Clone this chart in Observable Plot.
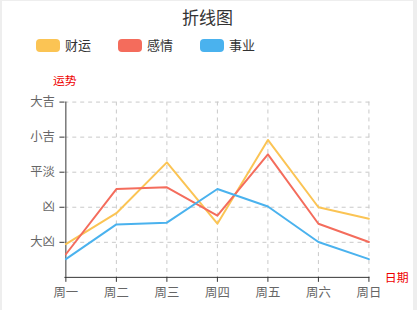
<!DOCTYPE html>
<html>
<head>
<meta charset="utf-8">
<script src="https://cdn.jsdelivr.net/npm/d3@7"></script>
<script src="https://cdn.jsdelivr.net/npm/@observablehq/plot@0.6"></script>
<style>
  html, body { margin: 0; padding: 0; background: #fff; }
  body { font-family: "Noto Sans CJK SC", "Noto Sans", sans-serif; }
  #wrap { width: 417px; height: 310px; position: relative; box-sizing: border-box; border-left: 2px solid #eee; border-right: 4px solid #eee; border-top: 1px solid #eee; overflow: hidden; }
  #title { position: absolute; left: 0; right: 0; top: 4px; text-align: center; font-size: 17px; color: #333; line-height: 24px; }
  #legend { position: absolute; left: 34px; top: 35px; display: flex; font-size: 13px; color: #333; line-height: 18px; }
  .item { display: flex; align-items: center; margin-right: 27px; }
  .sw { width: 24px; height: 13px; border-radius: 4px; margin-right: 5px; }
  #chart { position: absolute; left: -2px; top: 58px; }
</style>
</head>
<body>
<div id="wrap">
  <div id="title"></div>
  <div id="legend"></div>
  <div id="chart"></div>
</div>
<script>
const titleText = "折线图";
const days = ["周一", "周二", "周三", "周四", "周五", "周六", "周日"];
const seriesNames = ["财运", "感情", "事业"];
const seriesColors = ["#fbc454", "#f46c5c", "#4ab2ee"];
const wealth = [0.95, 1.83, 3.28, 1.53, 3.92, 2.0, 1.67];
const love = [0.66, 2.52, 2.57, 1.76, 3.51, 1.53, 1.01];
const career = [0.52, 1.51, 1.56, 2.52, 2.02, 1.01, 0.52];
const yTickValues = [1, 2, 3, 4, 5];
const yTickLabels = ["大凶", "凶", "平淡", "小吉", "大吉"];
const yAxisLabel = "运势";
const xAxisLabel = "日期";

document.getElementById("title").textContent = titleText;
const legend = document.getElementById("legend");
seriesNames.forEach((n, i) => {
  const it = document.createElement("div");
  it.className = "item";
  const sw = document.createElement("div");
  sw.className = "sw";
  sw.style.background = seriesColors[i];
  const t = document.createElement("span");
  t.textContent = n;
  it.appendChild(sw); it.appendChild(t);
  legend.appendChild(it);
});

const allValues = [wealth, love, career];
const data = [];
seriesNames.forEach((s, si) => days.forEach((d, di) => data.push({series: s, day: d, value: allValues[si][di]})));

const font = "Noto Sans CJK SC";
const plot = Plot.plot({
  width: 417,
  height: 251,
  marginLeft: 65,
  marginRight: 44,
  marginTop: 43,
  marginBottom: 31,
  style: {fontFamily: font, fontSize: "12.5px", background: "transparent"},
  x: {type: "point", domain: days, padding: 0},
  y: {domain: [0, 5]},
  color: {domain: seriesNames, range: seriesColors},
  marks: [
    Plot.gridY(yTickValues, {stroke: "#c8c8c8", strokeOpacity: 1, strokeDasharray: "4,4"}),
    Plot.gridX(days.slice(1), {stroke: "#c8c8c8", strokeOpacity: 1, strokeDasharray: "4,4"}),
    Plot.axisY(yTickValues, {tickFormat: d => yTickLabels[d - 1], tickSize: 5, tickPadding: 5, stroke: "#333", fill: "#666", label: null}),
    Plot.axisX(days, {tickSize: 5, tickPadding: 6, stroke: "#333", fill: "#666", label: null}),
    Plot.ruleY([0], {stroke: "#333"}),
    Plot.ruleX([days[0]], {stroke: "#333"}),
    Plot.line(data, {x: "day", y: "value", z: "series", stroke: "series", strokeWidth: 2}),
    Plot.text([yAxisLabel], {frameAnchor: "top-left", lineAnchor: "middle", dx: -12, dy: -21, fill: "#e00", fontSize: 12, textAnchor: "start"}),
    Plot.text([xAxisLabel], {frameAnchor: "bottom-right", lineAnchor: "middle", dx: 27, dy: 1, fill: "#e00", fontSize: 12, textAnchor: "middle"})
  ]
});
document.getElementById("chart").appendChild(plot);
</script>
</body>
</html>
